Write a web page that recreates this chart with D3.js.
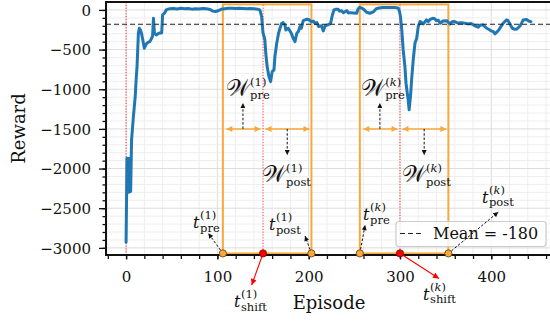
<!DOCTYPE html>
<html>
<head>
<meta charset="utf-8">
<script src="https://cdn.jsdelivr.net/npm/d3@7/dist/d3.min.js"></script>
<style>
  html, body { margin: 0; padding: 0; background: #fff; }
  svg { display: block; }
</style>
</head>
<body>
<svg id="chart" width="550" height="322"></svg>
<script>
// ---------------- DATA ----------------
const episodes = [0,1,2,3,4,5,6,8,10,11,12,13.5,14.5,16,17,19,20,22,24,26,28,29,30,31,33,35,37,39,40,42,44,46,48,
  52,56,60,64,68,72,76,80,84,88,92,95,98,101,104,108,112,116,120,124,128,132,136,140,144,146.5,148.5,150,151,152,153,154.5,156.5,158.3,160,162,163,165,167,168.6,170.5,172,174,175,177.7,181,183,185,187,188.7,190.5,192,194,196,198,200,203,205,207,209,211,214,216,218,221,224,226,227.7,230,232,234,236,238,240,242,243.4,246,249,252.6,254,255.5,258,260,263.5,267,270.7,274,277,281,285,290,294,298,299.5,300.5,302,303.5,305.4,306.6,308,309,310,311.5,313,314.5,316.4,318.3,320,322,324,325.6,329,331,333,336,338,340,342,344,347,351,354.7,357,360,363,367,371,374.7,378,382,385.7,388,391,395,398,400,402,404,406,407.7,410,413,416.7,418,420,423,426,428,431.4,433,435,438.6,441,443.4];
const reward = [-2930,-1870,-1880,-2300,-1870,-2290,-1640,-1345,-1093,-880,-715,-290,-230,-260,-300,-420,-483,-430,-410,-400,-357,-330,-105,-293,-315,-300,-290,-290,-63,-42,0,10,15,
  18,12,20,14,18,10,16,12,18,14,5,-15,-20,-10,8,15,20,20,18,22,18,15,17,14,10,0,-84,-290,-330,-378,-546,-715,-840,-904,-778,-756,-588,-420,-294,-231,-168,-160,-189,-252,-231,-294,-357,-400,-294,-273,-210,-231,-135,-126,-118,-120,-150,-140,-170,-160,-210,-200,-265,-200,-189,-168,-63,0,8,10,-15,-10,-34,-20,-10,-38,-34,-38,-42,10,30,25,10,-30,-42,-25,15,25,30,30,32,30,25,-20,-84,-252,-504,-715,-924,-1050,-1134,-1260,-1093,-840,-630,-420,-357,-210,-147,-160,-176,-126,-147,-120,-105,-110,-135,-130,-168,-140,-135,-176,-150,-147,-165,-160,-168,-176,-170,-200,-218,-190,-189,-231,-250,-265,-270,-302,-280,-260,-220,-168,-126,-130,-168,-231,-244,-240,-202,-170,-126,-120,-140,-147];

const xMajorTicks = [0, 100, 200, 300, 400];
const yMajorTicks = [-3000, -2500, -2000, -1500, -1000, -500, 0];
const xMinorTicks = d3.range(-20, 461, 20);
const yMinorTicks = d3.range(-3000, 1, 100);

const meanReward = -180;
const legendLabel = "Mean = -180";
const shiftEpisodes = [150, 300];
const preEpisodes = [106, 256];
const postEpisodes = [203, 353];
const windowIds = ["1", "k"];
const windowTop = 70;
const windowBottom = -3070;
const arrowLevel = -1500;

// ---------------- LAYOUT ----------------
const svg = d3.select("#chart");
const L = 106, R = 552, T = 2, B = 255;
const x = d3.scaleLinear().domain([-22, 466.5]).range([L, R]);
const y = d3.scaleLinear().domain([-3090, 100]).range([B, T]);

const ORANGE = "#f8a83c";
const serif = "'DejaVu Serif', serif";

svg.append("defs").append("clipPath").attr("id", "plotclip")
  .append("rect").attr("x", L).attr("y", T).attr("width", R - L).attr("height", B - T);

const defs = svg.select("defs");
function marker(id, color, w, h) {
  defs.append("marker").attr("id", id).attr("viewBox", "0 0 10 10")
    .attr("refX", 10).attr("refY", 5).attr("markerWidth", w).attr("markerHeight", h)
    .attr("markerUnits", "userSpaceOnUse").attr("orient", "auto-start-reverse")
    .append("path").attr("d", "M0,0 L10,5 L0,10 z").attr("fill", color);
}
marker("ahOrange", ORANGE, 7, 6);
marker("ahBlack", "#111", 6, 5);
marker("ahRed", "red", 7, 6);

const plot = svg.append("g").attr("clip-path", "url(#plotclip)");

// grid
plot.append("g").selectAll("line").data(xMinorTicks).join("line")
  .attr("x1", d => x(d)).attr("x2", d => x(d)).attr("y1", T).attr("y2", B)
  .attr("stroke", d => d % 100 === 0 ? "#dcdcdc" : "#eeeeee").attr("stroke-width", 1);
plot.append("g").selectAll("line").data(yMinorTicks).join("line")
  .attr("x1", L).attr("x2", R).attr("y1", d => y(d)).attr("y2", d => y(d))
  .attr("stroke", d => d % 500 === 0 ? "#dcdcdc" : "#eeeeee").attr("stroke-width", 1);

// red dotted shift lines (and episode 0)
plot.append("g").selectAll("line").data([0].concat(shiftEpisodes)).join("line")
  .attr("x1", d => x(d)).attr("x2", d => x(d)).attr("y1", T).attr("y2", B)
  .attr("stroke", "red").attr("stroke-opacity", 0.8).attr("stroke-width", 1)
  .attr("stroke-dasharray", "1.2,1.6");

// orange windows
plot.append("g").selectAll("rect").data(preEpisodes).join("rect")
  .attr("x", (d, i) => x(d)).attr("width", (d, i) => x(postEpisodes[i]) - x(d))
  .attr("y", y(windowTop)).attr("height", y(windowBottom) - y(windowTop))
  .attr("fill", "none").attr("stroke", ORANGE).attr("stroke-width", 2);

// data line
plot.append("path")
  .datum(episodes.map((e, i) => [e, reward[i]]))
  .attr("fill", "none").attr("stroke", "#1f77b4").attr("stroke-width", 3)
  .attr("stroke-linejoin", "round").attr("stroke-linecap", "round")
  .attr("d", d3.line().x(d => x(d[0])).y(d => y(d[1])));

// mean line
plot.append("line").attr("x1", L).attr("x2", R).attr("y1", y(meanReward)).attr("y2", y(meanReward))
  .attr("stroke", "#222").attr("stroke-width", 1.1).attr("stroke-dasharray", "5,3");

// ---------------- AXES ----------------
const xAxisMinor = svg.append("g").attr("transform", `translate(0,${B})`)
  .call(d3.axisBottom(x).tickValues(xMinorTicks).tickSize(4).tickFormat(""));
const xAxis = svg.append("g").attr("transform", `translate(0,${B})`)
  .call(d3.axisBottom(x).tickValues(xMajorTicks).tickSize(4.5).tickPadding(12).tickFormat(d3.format("d")));
const yAxisMinor = svg.append("g").attr("transform", `translate(${L},0)`)
  .call(d3.axisLeft(y).tickValues(yMinorTicks).tickSize(3.5).tickFormat(""));
const yAxis = svg.append("g").attr("transform", `translate(${L},0)`)
  .call(d3.axisLeft(y).tickValues(yMajorTicks).tickSize(7).tickPadding(8).tickFormat(d3.format("d")));
[xAxisMinor, xAxis, yAxisMinor, yAxis].forEach(g => {
  g.select(".domain").remove();
  g.selectAll(".tick line").attr("stroke", "#111").attr("stroke-width", 1.3);
  g.selectAll("text").attr("font-family", serif).attr("font-size", 15).attr("fill", "#111");
});
xAxis.selectAll("text").attr("dy", "0.71em");
yAxis.selectAll("text").attr("dy", "0.36em");

// spines
svg.append("line").attr("x1", L).attr("x2", L).attr("y1", T).attr("y2", B).attr("stroke", "#111").attr("stroke-width", 2);
svg.append("line").attr("x1", L - 1).attr("x2", R).attr("y1", B).attr("y2", B).attr("stroke", "#111").attr("stroke-width", 2);
svg.append("line").attr("x1", L - 1).attr("x2", R).attr("y1", T).attr("y2", T).attr("stroke", "#111").attr("stroke-width", 2);

// axis labels
svg.append("text").attr("x", (L + R) / 2 - 0).attr("y", 309).attr("text-anchor", "middle")
  .attr("font-family", serif).attr("font-size", 18).attr("fill", "#111").text("Episode");
svg.append("text").attr("transform", `translate(25,${(T + B) / 2}) rotate(-90)`).attr("text-anchor", "middle")
  .attr("font-family", serif).attr("font-size", 18).attr("fill", "#111").text("Reward");

// ---------------- LEGEND ----------------
const lg = svg.append("g");
lg.append("rect").attr("x", 396).attr("y", 221.5).attr("width", 150).attr("height", 25).attr("rx", 3)
  .attr("fill", "white").attr("fill-opacity", 0.8).attr("stroke", "#cccccc").attr("stroke-width", 1.2);
lg.append("line").attr("x1", 400).attr("x2", 421).attr("y1", 233.5).attr("y2", 233.5)
  .attr("stroke", "#222").attr("stroke-width", 1.1).attr("stroke-dasharray", "5,3");
lg.append("text").attr("x", 433).attr("y", 239).attr("font-family", serif).attr("font-size", 16)
  .attr("fill", "#111").text(legendLabel);

// ---------------- ANNOTATIONS ----------------
const ann = svg.append("g");

function shortened(x1, y1, x2, y2, s1, s2) {
  const dx = x2 - x1, dy = y2 - y1, len = Math.hypot(dx, dy);
  const ux = dx / len, uy = dy / len;
  return [x1 + ux * s1, y1 + uy * s1, x2 - ux * s2, y2 - uy * s2];
}
function arrow(x1, y1, x2, y2, opts) {
  const [a, b, c, d] = shortened(x1, y1, x2, y2, opts.s1 || 0, opts.s2 || 0);
  const l = ann.append("line").attr("x1", a).attr("y1", b).attr("x2", c).attr("y2", d)
    .attr("stroke", opts.color).attr("stroke-width", opts.width || 1)
    .attr("marker-end", `url(#${opts.marker})`);
  if (opts.both) l.attr("marker-start", `url(#${opts.marker})`);
  if (opts.dash) l.attr("stroke-dasharray", opts.dash);
}

// double-headed window arrows + dashed pointers
preEpisodes.forEach((pre, i) => {
  const sh = shiftEpisodes[i], post = postEpisodes[i];
  arrow(x(pre), y(arrowLevel), x(sh), y(arrowLevel), { color: ORANGE, width: 1.5, marker: "ahOrange", both: true, s1: 3.5, s2: 2.5 });
  arrow(x(sh), y(arrowLevel), x(post), y(arrowLevel), { color: ORANGE, width: 1.5, marker: "ahOrange", both: true, s1: 2.5, s2: 2 });
  const mPre = (pre + sh) / 2, mPost = (sh + post) / 2;
  arrow(x(mPre), y(arrowLevel), x(mPre), y(-1175), { color: "#111", width: 1, marker: "ahBlack", dash: "2.5,1.8" });
  arrow(x(mPost), y(arrowLevel), x(mPost), y(-1830), { color: "#111", width: 1, marker: "ahBlack", dash: "2.5,1.8" });
});

// pointer arrows from markers to t labels
const tipsPre = [[90.1, -2816], [261.8, -2712]];
const tipsPost = [[196, -2850], [407.7, -2548]];
const tipsShift = [[137.6, -3468], [342.7, -3386]];
preEpisodes.forEach((pre, i) => {
  arrow(x(pre), y(windowBottom), x(tipsPre[i][0]), y(tipsPre[i][1]), { color: "#111", width: 1, marker: "ahBlack", dash: "2.5,1.8", s1: 4 });
  arrow(x(postEpisodes[i]), y(windowBottom), x(tipsPost[i][0]), y(tipsPost[i][1]), { color: "#111", width: 1, marker: "ahBlack", dash: "2.5,1.8", s1: 4 });
  arrow(x(shiftEpisodes[i]), y(windowBottom), x(tipsShift[i][0]), y(tipsShift[i][1]), { color: "red", width: 1.1, marker: "ahRed", s1: 3 });
});

// dots
ann.selectAll("circle.o").data(preEpisodes.concat(postEpisodes)).join("circle")
  .attr("cx", d => x(d)).attr("cy", y(windowBottom)).attr("r", 3.6)
  .attr("fill", ORANGE).attr("stroke", "#6b4a12").attr("stroke-width", 0.9);
ann.selectAll("circle.r").data(shiftEpisodes).join("circle")
  .attr("cx", d => x(d)).attr("cy", y(windowBottom)).attr("r", 3.6)
  .attr("fill", "red").attr("stroke", "#7a1010").attr("stroke-width", 0.9);

// math-like labels
function mathLabel(base, id, sub, ep, val, big) {
  const bx = x(ep), by = y(val);
  const baseSize = big ? 23 : 16;
  const t = ann.append("text").attr("x", bx).attr("y", by)
    .attr("font-family", big ? "'DejaVu Sans', 'DejaVu Serif', serif" : serif)
    .attr("font-style", big ? "normal" : "italic").attr("font-size", baseSize)
    .attr("fill", "#111").text(base);
  const w = t.node().getComputedTextLength();
  const sx = bx + w + (big ? 0 : 0.5);
  const sup = ann.append("text").attr("x", sx).attr("y", by - (big ? 10 : 9))
    .attr("font-family", serif).attr("font-size", 11.5).attr("fill", "#111");
  sup.append("tspan").text("(");
  sup.append("tspan").attr("font-style", id === "k" ? "italic" : "normal").text(id);
  sup.append("tspan").text(")");
  ann.append("text").attr("x", sx).attr("y", by + 3.5)
    .attr("font-family", serif).attr("font-size", 11.5).attr("fill", "#111").text(sub);
}
const W = "\u{1D4B2}";
const tPreLabel = [[73.4, -2750], [259.6, -2649]];
const tPostLabel = [[156.6, -2775], [389.9, -2434]];
const tShiftLabel = [[118.2, -3746], [325.3, -3657]];
const wPreLabel = [[109.5, -1085], [257.5, -1085]];
const wPostLabel = [[149, -2170], [302.3, -2170]];
windowIds.forEach((id, i) => {
  mathLabel("t", id, "pre", tPreLabel[i][0], tPreLabel[i][1], false);
  mathLabel("t", id, "post", tPostLabel[i][0], tPostLabel[i][1], false);
  mathLabel("t", id, "shift", tShiftLabel[i][0], tShiftLabel[i][1], false);
  mathLabel(W, id, "pre", wPreLabel[i][0], wPreLabel[i][1], true);
  mathLabel(W, id, "post", wPostLabel[i][0], wPostLabel[i][1], true);
});
</script>
</body>
</html>
